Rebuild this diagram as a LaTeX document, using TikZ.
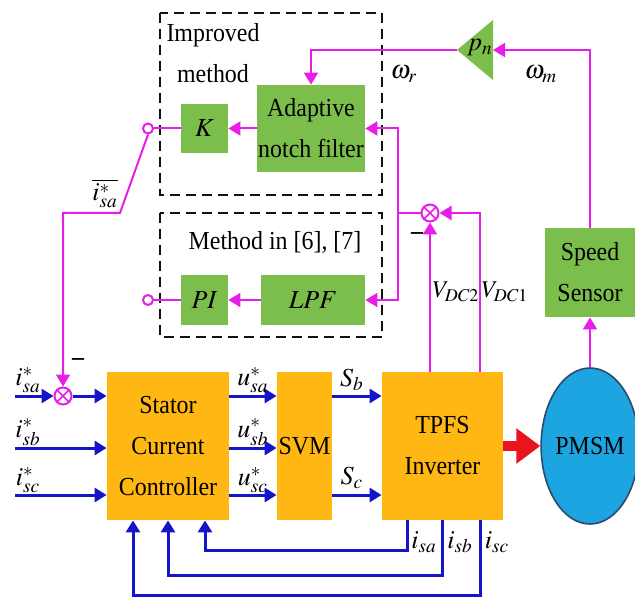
\documentclass[tikz,border=0pt]{standalone}
\usepackage{mathptmx}
\usepackage{fontspec}
\setmainfont[FakeStretch=0.92]{Liberation Serif}
\usetikzlibrary{arrows.meta,positioning,shapes.geometric}
\definecolor{ink}{HTML}{111111}
\definecolor{leaf}{HTML}{7CBE4C}
\definecolor{amber}{HTML}{FFB713}
\definecolor{motor}{HTML}{1CA5E1}
\definecolor{motorline}{HTML}{2A4A6E}
\definecolor{mag}{HTML}{E81EE8}
\definecolor{wire}{HTML}{1414C8}
\definecolor{hot}{HTML}{E8141E}
\tikzset{
  >={Triangle[length=6pt,width=7pt]},
  boxfont/.style={font=\fontsize{13}{20.5}\selectfont},
  gbox/.style={fill=leaf,inner sep=0pt,align=center,boxfont},
  obox/.style={fill=amber,inner sep=0pt,align=center,boxfont},
  frame/.style={draw=ink,dash pattern=on 5pt off 3pt,line width=1.1pt},
  mline/.style={draw=mag,line width=1pt},
  mflow/.style={->,mline},
  bflow/.style={->,draw=wire,line width=1.5pt},
  power/.style={-{Triangle[length=12pt,width=17pt]},draw=hot,line width=5pt},
  sumnode/.style={circle,draw=mag,line width=1pt,minimum size=8.5pt,inner sep=0pt},
  port/.style={circle,draw=mag,line width=1pt,minimum size=5pt,inner sep=0pt},
  lbl/.style={font=\fontsize{13}{15}\selectfont,inner sep=1pt},
}

\begin{document}
\begin{tikzpicture}[x=0.5pt,y=-0.5pt]
  \useasboundingbox (0,0) rectangle (635,598);
  % dashed frames
  \draw[frame] (160,13) rectangle (382,195);
  \draw[frame] (160,213) rectangle (382,337);
  \node[boxfont,align=center] (improved) at (213,53) {Improved\\method};
  \node[boxfont] (method) at (275,242) {Method in [6], [7]};

  % blocks
  \node[gbox,minimum width=23.5pt,minimum height=24.5pt] (K) at (204.5,128.5) {$K$};
  \node[gbox,minimum width=54pt,minimum height=43.5pt] (notch) at (311,128.5) {Adaptive\\notch filter};
  \node[gbox,minimum width=23.5pt,minimum height=25pt] (PI) at (204.5,300) {$PI$};
  \node[gbox,minimum width=52pt,minimum height=25pt] (LPF) at (313,300) {$LPF$};
  \node[gbox,minimum width=45pt,minimum height=44.5pt] (sensor) at (590,272.5) {Speed\\Sensor};
  \node[obox,minimum width=61pt,minimum height=74pt] (scc) at (168,446) {Stator\\Current\\Controller};
  \node[obox,minimum width=27.5pt,minimum height=74pt] (svm) at (304.5,446) {SVM};
  \node[obox,minimum width=60.5pt,minimum height=74pt] (inv) at (442.5,446) {TPFS\\Inverter};
  \node[ellipse,fill=motor,draw=motorline,line width=.8pt,minimum width=46pt,minimum height=78pt,
        inner sep=0pt,boxfont] (pmsm) at (590,446) {PMSM};

  % gain p_n
  \fill[leaf] (457,50) -- (493,20) -- (493,80) -- cycle;
  \node[lbl] (pn) at (480,48) {$p_n$};
  \coordinate (pnL) at (457,50);
  \coordinate (pnR) at (493,50);

  % summing points and switch ports
  \node[sumnode] (sa) at (63,396) {};
  \node[sumnode] (sv) at (430,213) {};
  \foreach \s in {sa,sv}
    \draw[mag,line width=.8pt] (\s.45) -- (\s.225) (\s.135) -- (\s.315);
  \node[port] (pk) at (148,128.5) {};
  \node[port] (pp) at (148,300) {};
  \coordinate (blade) at (120,213);
  \coordinate (tap) at (398,213);

  % magenta signal paths
  \draw[mflow] (notch) -- (K);
  \draw[mflow] (LPF) -- (PI);
  \draw[mline] (K) -- (pk);
  \draw[mline] (PI) -- (pp);
  \draw[mflow] (pk.south) -- (blade) -| (sa.north);
  \draw[mflow] (sensor.north) |- (pnR);
  \draw[mflow] (pnL) -| (notch.north);
  \draw[mline] (sv.west) -- (tap);
  \draw[mflow] (tap) |- (notch.east);
  \draw[mflow] (tap) |- (LPF.east);
  \draw[mflow] (inv.north -| sv) -- (sv.south);
  \draw[mflow] ([xshift=18.75pt]inv.north) |- (sv.east);
  \draw[mflow] (pmsm.north) -- (sensor.south);

  \node[lbl] at (404,74) {$\omega_{r}$};
  \node[lbl] at (541,74) {$\omega_{m}$};
  \node[lbl,font=\fontsize{12}{14}\selectfont] at (456,292) {$V_{DC2}$};
  \node[lbl,font=\fontsize{12}{14}\selectfont] at (505,292) {$V_{DC1}$};
  \node[lbl] at (417,236) {\bfseries --};
  \node[lbl] at (78,362) {\bfseries --};
  \node[lbl] at (105,193) {$\overline{i_{sa}^{*}}$};

  % blue signal paths
  \coordinate (ina) at (15,396);
  \coordinate (inb) at (15,448);
  \coordinate (inc) at (15,495);
  \draw[bflow] (ina) -- (sa);
  \draw[bflow] (sa) -- (sa -| scc.west);
  \draw[bflow] (inb) -- (inb -| scc.west);
  \draw[bflow] (inc) -- (inc -| scc.west);
  \foreach \y in {396,448,495}
    \draw[bflow] (scc.east |- 0,\y) -- (svm.west |- 0,\y);
  \foreach \y in {396,495}
    \draw[bflow] (svm.east |- 0,\y) -- (inv.west |- 0,\y);
  \draw[power] (inv) -- (pmsm);

  \draw[bflow] ([xshift=-17.75pt]inv.south) -- ++(0,30) -| ([xshift=18.5pt]scc.south);
  \draw[bflow] (inv.south) -- ++(0,55) -| (scc.south);
  \draw[bflow] ([xshift=18.75pt]inv.south) -- ++(0,75) -| ([xshift=-17.5pt]scc.south);

  \node[lbl] at (28,380) {$i_{sa}^{*}$};
  \node[lbl] at (28,432) {$i_{sb}^{*}$};
  \node[lbl] at (28,480) {$i_{sc}^{*}$};
  \node[lbl] at (253,380) {$u_{sa}^{*}$};
  \node[lbl] at (253,432) {$u_{sb}^{*}$};
  \node[lbl] at (253,480) {$u_{sc}^{*}$};
  \node[lbl] at (352,380) {$S_b$};
  \node[lbl] at (352,478) {$S_c$};
  \node[lbl] at (424,542) {$i_{sa}$};
  \node[lbl] at (460,542) {$i_{sb}$};
  \node[lbl] at (497,542) {$i_{sc}$};
\end{tikzpicture}
\end{document}
